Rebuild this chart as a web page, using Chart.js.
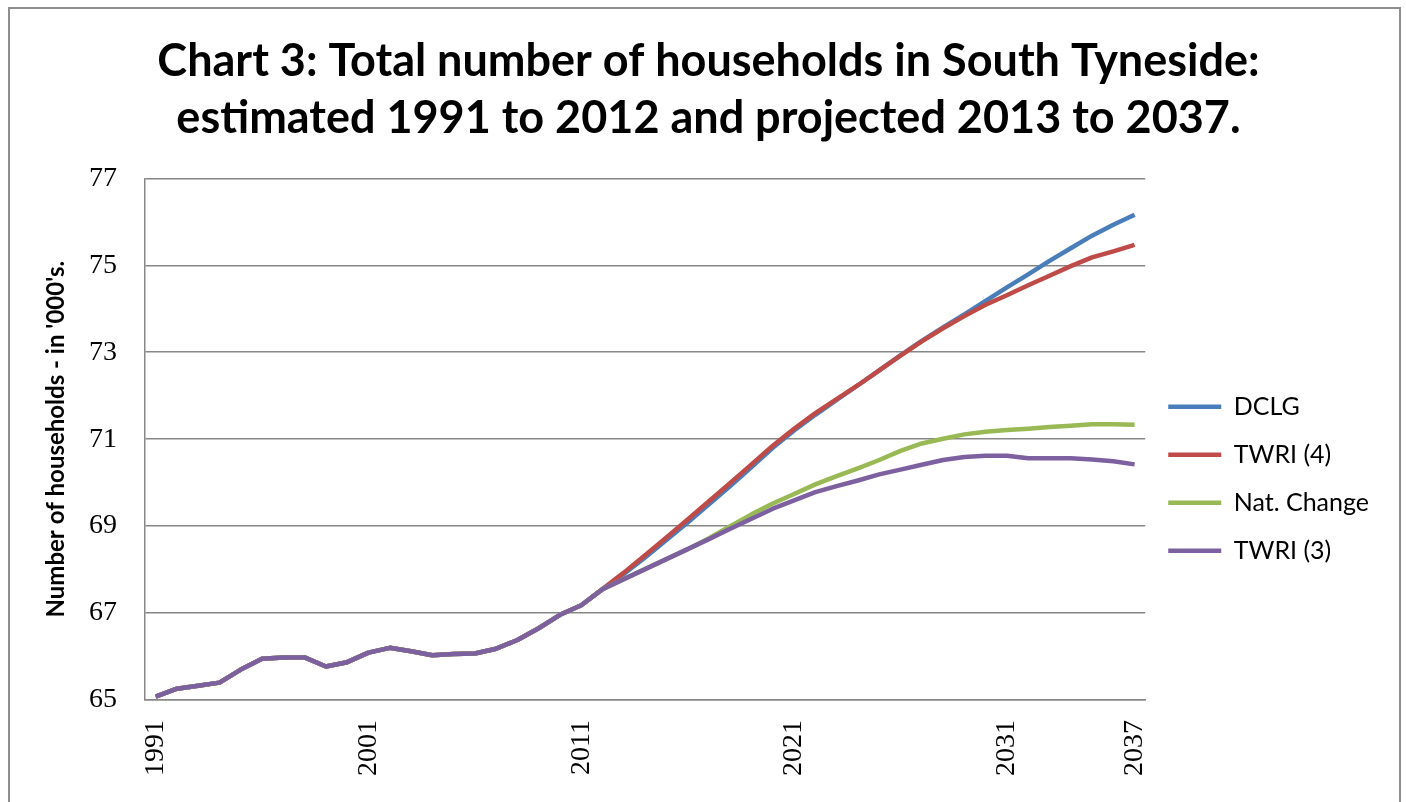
<!DOCTYPE html>
<html>
<head>
<meta charset="utf-8">
<title>Households in South Tyneside</title>
<script src="https://cdn.jsdelivr.net/npm/chart.js@4.4.1/dist/chart.umd.min.js"></script>
<style>
  html, body { margin: 0; padding: 0; background: #fff; overflow: hidden; }
  #frame { position: absolute; left: 8px; top: 7px; width: 1393px; height: 830px;
           border: 2px solid #8e8e8e; box-sizing: border-box; }
  #wrap { position: absolute; left: 0; top: 0; width: 1406px; height: 802px; }
</style>
</head>
<body>
<div id="frame"></div>
<div id="wrap"><canvas id="myChart"></canvas></div>
<script>
// years on the category axis
var years = ['1991','1992','1993','1994','1995','1996','1997','1998','1999','2000',
             '2001','2002','2003','2004','2005','2006','2007','2008','2009','2010',
             '2011','2012','2013','2014','2015','2016','2017','2018','2019','2020',
             '2021','2022','2023','2024','2025','2026','2027','2028','2029','2030',
             '2031','2032','2033','2034','2035','2036','2037'];
var shownYears = ['1991','2001','2011','2021','2031','2037'];

// estimated households ('000s), 1991 - 2012, shared by every series
var estimated = [65.08, 65.26, 65.33, 65.40, 65.70, 65.95, 65.98, 65.98, 65.77, 65.87,
                 66.09, 66.20, 66.12, 66.03, 66.06, 66.07, 66.18, 66.38, 66.65, 66.96,
                 67.18, 67.55];

// projections 2013 - 2037
var dclg     = [67.90, 68.28, 68.68, 69.08, 69.50, 69.92, 70.36, 70.80, 71.20, 71.56,
                71.90, 72.24, 72.58, 72.93, 73.26, 73.57, 73.87, 74.18, 74.49, 74.79,
                75.10, 75.39, 75.68, 75.93, 76.16];
var twri4    = [67.93, 68.33, 68.74, 69.15, 69.57, 69.99, 70.42, 70.85, 71.24, 71.60,
                71.92, 72.24, 72.58, 72.92, 73.25, 73.55, 73.83, 74.09, 74.31, 74.54,
                74.76, 74.98, 75.18, 75.32, 75.47];
var natChange = [67.78, 68.01, 68.24, 68.47, 68.72, 69.00, 69.27, 69.52, 69.74, 69.96,
                 70.15, 70.33, 70.52, 70.73, 70.90, 71.01, 71.11, 71.17, 71.21, 71.24,
                 71.28, 71.31, 71.34, 71.34, 71.33];
var twri3    = [67.78, 68.01, 68.24, 68.47, 68.70, 68.94, 69.17, 69.40, 69.59, 69.78,
                69.92, 70.05, 70.19, 70.30, 70.41, 70.52, 70.59, 70.62, 70.62, 70.56,
                70.56, 70.56, 70.53, 70.49, 70.42];

var seriesNames  = ['DCLG', 'TWRI (4)', 'Nat. Change', 'TWRI (3)'];
var seriesColors = ['#4a7ebb', '#be4b48', '#98b954', '#7d60a0'];
var projections  = [dclg, twri4, natChange, twri3];

var datasets = [];
for (var i = 0; i < projections.length; i++) {
  datasets.push({
    label: seriesNames[i],
    data: estimated.concat(projections[i]),
    borderColor: seriesColors[i],
    backgroundColor: seriesColors[i],
    borderWidth: 4.5,
    pointRadius: 0,
    tension: 0,
    borderJoinStyle: 'round',
    order: projections.length - i   // later series drawn on top
  });
}

var gridGrey = '#878787';

new Chart('myChart', {
  type: 'line',
  data: { labels: years, datasets: datasets },
  options: {
    responsive: true,
    maintainAspectRatio: false,
    animation: false,
    layout: { padding: { left: 38, right: 27, top: 0, bottom: 6 } },
    plugins: {
      title: {
        display: true,
        text: ['Chart 3: Total number of households in South Tyneside:',
               'estimated 1991 to 2012 and projected 2013 to 2037.'],
        color: '#000',
        font: { family: 'Lato', size: 45, weight: 'bold', lineHeight: 1.27 },
        padding: { top: 33, bottom: 31 }
      },
      legend: {
        position: 'right',
        // blank legend title only pushes the keys down beside the plot
        title: { display: true, text: '', font: { size: 12 }, padding: { top: 147, bottom: 0 } },
        labels: {
          usePointStyle: true,
          pointStyle: 'line',
          pointStyleWidth: 53,
          color: '#000',
          font: { family: 'Lato', size: 25 },
          padding: 23,
          sort: function (a, b) { return a.datasetIndex - b.datasetIndex; }
        }
      },
      tooltip: { enabled: false }
    },
    scales: {
      x: {
        offset: true,
        grid: { display: false, drawTicks: false },
        border: { color: gridGrey, width: 1.5 },
        ticks: {
          autoSkip: false,
          minRotation: 90,
          maxRotation: 90,
          padding: 20,
          color: '#000',
          font: { family: 'Liberation Serif', size: 28 },
          callback: function (value, index) {
            var y = years[index];
            return shownYears.indexOf(y) >= 0 ? y : '';
          }
        }
      },
      y: {
        min: 65,
        max: 77,
        afterFit: function (scale) { scale.width = 107; },
        grid: { color: gridGrey, lineWidth: 1.5, drawTicks: false },
        border: { color: gridGrey, width: 1.5 },
        ticks: {
          stepSize: 2,
          padding: 28,
          color: '#000',
          font: { family: 'Liberation Serif', size: 28 }
        },
        title: {
          display: true,
          text: "Number of households - in '000's.",
          color: '#000',
          font: { family: 'Lato', size: 24, weight: 'bold' },
          padding: { top: 4, bottom: 8 }
        }
      }
    }
  }
});
</script>
</body>
</html>
